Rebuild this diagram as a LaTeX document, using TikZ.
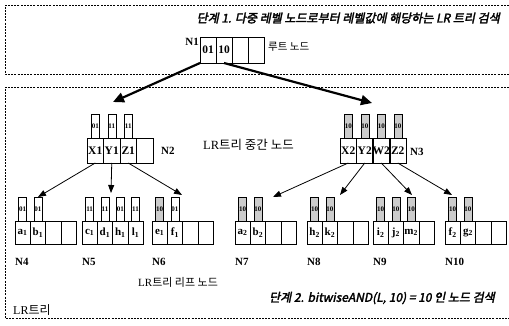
\documentclass[tikz,border=0pt]{standalone}
\usepackage{fontspec}
\setmainfont{Liberation Serif}
\newfontfamily\kor{Noto Sans CJK KR}
\newfontfamily\korbi[FakeSlant=0.2,FakeBold=2.5]{Noto Sans CJK KR}
\usetikzlibrary{arrows.meta, positioning}

% one leaf node of the LR tree: name, left x, four cell texts
\newcommand\leafrow[6]{%
  \foreach \t [count=\i] in {{#3},{#4},{#5},{#6}}
    \node[leaf] (#1c\i) at ({#2+15.3*\i-7.65},232.5) {\t};}

\begin{document}
\begin{tikzpicture}[x=1pt,y=-1pt,
  leaf/.style={draw,minimum width=15.3pt,minimum height=23pt,inner sep=0pt,outer sep=0pt,
               font=\bfseries\fontsize{11}{11}\selectfont},
  mid/.style={draw,minimum width=16.5pt,minimum height=25pt,inner sep=0pt,outer sep=0pt,
              font=\bfseries\fontsize{11.5}{11.5}\selectfont},
  lbl/.style={draw,anchor=south,minimum width=8pt,minimum height=24pt,inner sep=0pt,
              font=\bfseries\fontsize{7}{7}\selectfont},
  hit/.style={lbl,fill=gray!40},
  tag/.style={anchor=west,inner sep=0pt,font=\bfseries\fontsize{11}{11}\selectfont},
  note/.style={anchor=west,inner sep=0pt,font=\fontsize{12.5}{12.5}\selectfont},
  title/.style={anchor=east,inner sep=0pt,font=\korbi\fontsize{12}{12}\selectfont},
  zone/.style={dash pattern=on 2pt off 1.2pt,line width=0.6pt},
  rootarr/.style={-{Triangle[length=11pt,width=10pt]},line width=2.2pt},
  kidarr/.style={-{Triangle[length=8pt,width=6pt]},line width=0.8pt}
]
  \useasboundingbox (0,0) rectangle (509,326);
  \draw[zone] (509,5) -- (5,5) -- (5,74) -- (509,74);
  \draw[zone] (509,87) -- (5,87) -- (5,318) -- (509,318);

  \node[title] (step1) at (500,18) {단계 1. 다중 레벨 노드로부터 레벨값에 해당하는 LR 트리 검색};

  % root node
  \foreach \t [count=\i] in {01,10,{},{}}
    \node[mid,minimum width=16pt,minimum height=26pt] (n1c\i) at ({192+16*\i},50) {\t};
  \node[tag,anchor=east] (n1) at (199,42) {N1};
  \node[note,font=\kor\fontsize{10.5}{10.5}\selectfont] (rootnote) at (268,47) {루트 노드};

  % middle nodes
  \foreach \t [count=\i] in {X1,Y1,Z1,{}}
    \node[mid] (n2c\i) at ({78.75+16.5*\i},150.5) {\t};
  \foreach \t [count=\i] in {X2,Y2,W2,Z2}
    \node[mid] (n3c\i) at ({331.75+16.5*\i},150.5) {\t};
  \node[tag] (n2) at (161,151) {N2};
  \node[tag] (n3) at (410,152) {N3};
  \node[note] (midnote) at (203,145) {LR{\kor 트리 중간 노드}};
  \foreach \c/\v in {n2c1/01,n2c2/11,n2c3/11}
    \node[lbl] (l\c) at (\c.north) {\v};
  \foreach \c in {n3c1,n3c2,n3c3,n3c4}
    \node[hit] (l\c) at (\c.north) {10};

  % leaf nodes
  \leafrow{n4}{15}{a\textsubscript{1}}{b\textsubscript{1}}{}{}
  \leafrow{n5}{82}{c\textsubscript{1}}{d\textsubscript{1}}{h\textsubscript{1}}{l\textsubscript{1}}
  \leafrow{n6}{152}{e\textsubscript{1}}{f\textsubscript{1}}{}{}
  \leafrow{n7}{235}{a\textsubscript{2}}{b\textsubscript{2}}{}{}
  \leafrow{n8}{307}{h\textsubscript{2}}{k\textsubscript{2}}{}{}
  \leafrow{n9}{373}{i\textsubscript{2}}{j\textsubscript{2}}{m\textsubscript{2}}{}
  \leafrow{n10}{445}{f\textsubscript{2}}{g\textsubscript{2}}{}{}
  \foreach \c/\v in {n4c1/01,n4c2/01,n5c1/11,n5c2/11,n5c3/01,n5c4/11,n6c2/01}
    \node[lbl] (l\c) at (\c.north) {\v};
  \foreach \c in {n6c1,n7c1,n7c2,n8c1,n8c2,n9c1,n9c2,n9c3,n10c1,n10c2}
    \node[hit] (l\c) at (\c.north) {10};
  \foreach \n/\x in {4/15,5/82,6/152,7/235,8/307,9/373,10/445}
    \node[tag] (n\n) at (\x,262) {N\n};

  \node[note,font=\fontsize{11}{11}\selectfont] (leafnote) at (138,282) {LR{\kor 트리 리프 노드}};
  \node[title] (step2) at (495,298) {단계 2. bitwiseAND(L, 10) = 10 인 노드 검색};
  \node[note,font=\fontsize{12}{12}\selectfont] (treenote) at (13,310) {LR{\kor 트리}};

  % arrows
  \coordinate (to2) at (113,102);  \coordinate (to3) at (372,103);
  \coordinate (to4) at (38,197);   \coordinate (to5) at (111,193);
  \coordinate (to6) at (182,195);  \coordinate (to7) at (273,197);
  \coordinate (to8) at (340,195);  \coordinate (to9) at (412,195);
  \coordinate (to10) at (452,195);
  \draw[rootarr] (n1c1.south west) -- (to2);
  \draw[rootarr] (n1c2.south) -- (to3);
  \draw[kidarr] (n2c1.south) -- (to4);
  \draw[kidarr] (n2c2.south) -- (to5);
  \draw[kidarr] (n2c3.south) -- (to6);
  \draw[kidarr] (n3c1.south) -- (to7);
  \draw[kidarr] (n3c2.south) -- (to8);
  \draw[kidarr] (n3c3.south) -- (to9);
  \draw[kidarr] (n3c4.south) -- (to10);
\end{tikzpicture}
\end{document}
